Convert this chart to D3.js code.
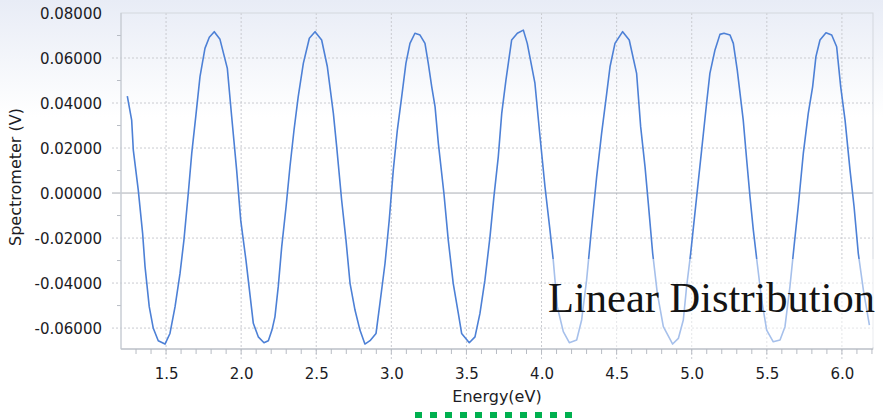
<!DOCTYPE html>
<html>
<head>
<meta charset="utf-8">
<script src="https://cdn.jsdelivr.net/npm/d3@7"></script>
<style>
  body { margin: 0; background: #fff; }
  svg { display: block; }
  .tick text { font-family: "DejaVu Sans", Verdana, sans-serif; font-size: 15px; fill: #1c1c24; }
</style>
</head>
<body>
<svg id="viz" width="883" height="418"></svg>
<script>
// values
var energy = [1.242,1.271,1.282,1.315,1.344,1.360,1.388,1.415,1.448,1.493,1.526,1.560,1.593,1.619,1.648,1.671,1.699,1.726,1.759,1.788,1.821,1.859,1.908,1.937,1.970,1.997,2.032,2.081,2.114,2.152,2.181,2.205,2.225,2.247,2.270,2.299,2.325,2.352,2.380,2.414,2.454,2.492,2.536,2.574,2.614,2.636,2.669,2.698,2.725,2.758,2.791,2.824,2.858,2.898,2.924,2.958,2.986,3.013,3.040,3.069,3.097,3.124,3.157,3.191,3.224,3.246,3.269,3.291,3.313,3.350,3.379,3.412,3.446,3.468,3.519,3.557,3.590,3.623,3.657,3.683,3.712,3.735,3.763,3.801,3.839,3.879,3.905,3.956,3.990,4.023,4.056,4.078,4.105,4.145,4.185,4.234,4.267,4.300,4.334,4.367,4.400,4.434,4.456,4.489,4.540,4.584,4.633,4.660,4.689,4.711,4.740,4.771,4.811,4.873,4.911,4.944,4.966,4.993,5.033,5.066,5.099,5.121,5.155,5.188,5.215,5.255,5.277,5.303,5.343,5.366,5.388,5.410,5.436,5.466,5.499,5.543,5.588,5.621,5.654,5.681,5.709,5.743,5.776,5.805,5.827,5.854,5.894,5.932,5.965,5.992,6.021,6.054,6.081,6.109,6.143,6.183];
var voltage = [0.0431,0.0324,0.0191,0.0013,-0.0179,-0.0327,-0.0505,-0.0601,-0.0656,-0.0671,-0.0624,-0.0505,-0.0357,-0.0209,-0.0001,0.0176,0.0347,0.0517,0.0643,0.0692,0.0717,0.0683,0.0554,0.0339,0.0102,-0.0120,-0.0298,-0.0579,-0.0639,-0.0665,-0.0656,-0.0609,-0.0550,-0.0416,-0.0239,-0.0061,0.0117,0.0280,0.0428,0.0576,0.0688,0.0717,0.0680,0.0561,0.0354,0.0206,-0.0031,-0.0209,-0.0401,-0.0520,-0.0609,-0.0671,-0.0656,-0.0624,-0.0490,-0.0312,-0.0120,0.0102,0.0280,0.0428,0.0576,0.0665,0.0710,0.0702,0.0665,0.0576,0.0472,0.0384,0.0221,-0.0001,-0.0209,-0.0401,-0.0535,-0.0624,-0.0665,-0.0639,-0.0535,-0.0387,-0.0194,-0.0016,0.0161,0.0354,0.0502,0.0680,0.0710,0.0724,0.0665,0.0488,0.0250,0.0028,-0.0164,-0.0298,-0.0505,-0.0616,-0.0665,-0.0653,-0.0564,-0.0387,-0.0150,0.0072,0.0265,0.0443,0.0561,0.0665,0.0717,0.0680,0.0532,0.0295,0.0117,-0.0046,-0.0268,-0.0446,-0.0594,-0.0671,-0.0646,-0.0564,-0.0416,-0.0268,-0.0016,0.0191,0.0399,0.0532,0.0636,0.0705,0.0710,0.0702,0.0665,0.0547,0.0324,0.0147,-0.0016,-0.0164,-0.0312,-0.0476,-0.0609,-0.0661,-0.0653,-0.0594,-0.0416,-0.0239,-0.0061,0.0176,0.0354,0.0472,0.0606,0.0680,0.0712,0.0702,0.0650,0.0472,0.0324,0.0102,-0.0061,-0.0268,-0.0431,-0.0587];
var xTicks = [1.5, 2.0, 2.5, 3.0, 3.5, 4.0, 4.5, 5.0, 5.5, 6.0];
var yTicks = [-0.06, -0.04, -0.02, 0, 0.02, 0.04, 0.06, 0.08];
var xMinor = d3.range(13, 63).map(function(d) { return d / 10; });
var yMinor = [-0.05, -0.03, -0.01, 0.01, 0.03, 0.05, 0.07];

var svg = d3.select("#viz"),
    margin = {top: 13, right: 10, bottom: 69, left: 121},
    width = 883 - margin.left - margin.right,
    height = 418 - margin.top - margin.bottom;

// soft blue wash at the top of the page
var defs = svg.append("defs");
var grad = defs.append("linearGradient").attr("id", "wash").attr("x1", 0).attr("y1", 0).attr("x2", 0).attr("y2", 1);
grad.append("stop").attr("offset", "0%").attr("stop-color", "#e8ecf6");
grad.append("stop").attr("offset", "28%").attr("stop-color", "#ffffff");
svg.append("rect").attr("width", 883).attr("height", 418).attr("fill", "url(#wash)");

var g = svg.append("g").attr("transform", "translate(" + margin.left + "," + margin.top + ")");

var x = d3.scaleLinear().domain([1.2, 6.207]).range([0, width]);
var y = d3.scaleLinear().domain([-0.0693, 0.08]).range([height, 0]);

// gridlines
g.append("g").selectAll("line").data(xTicks).enter().append("line")
    .attr("x1", d => x(d)).attr("x2", d => x(d))
    .attr("y1", 0).attr("y2", height + 11)
    .attr("stroke", "#c9cbd0").attr("stroke-dasharray", "2,2");
g.append("g").selectAll("line").data(yTicks.filter(d => d != 0 && d != 0.08)).enter().append("line")
    .attr("x1", -9).attr("x2", width)
    .attr("y1", d => y(d)).attr("y2", d => y(d))
    .attr("stroke", "#c9cbd0").attr("stroke-dasharray", "2,2");
g.append("line").attr("x1", -9).attr("x2", width)
    .attr("y1", y(0)).attr("y2", y(0)).attr("stroke", "#a9adb4");

// plot frame
g.append("rect").attr("width", width).attr("height", height)
    .attr("fill", "none").attr("stroke", "#d3d7de");

// minor ticks
g.append("g").selectAll("line").data(xMinor).enter().append("line")
    .attr("x1", d => x(d)).attr("x2", d => x(d))
    .attr("y1", height).attr("y2", height + 5)
    .attr("stroke", "#b8bcc4");
g.append("g").selectAll("line").data(yMinor).enter().append("line")
    .attr("x1", -4).attr("x2", 0)
    .attr("y1", d => y(d)).attr("y2", d => y(d))
    .attr("stroke", "#b8bcc4");

// axes (labels only, lines drawn above); plain hyphen for negatives
var fmtY = function(d) { return d3.format(".5f")(d).replace("\u2212", "-"); };
var xAxis = g.append("g").attr("transform", "translate(0," + height + ")")
    .call(d3.axisBottom(x).tickValues(xTicks).tickFormat(d3.format(".1f")).tickSize(0).tickPadding(19));
var yAxis = g.append("g")
    .call(d3.axisLeft(y).tickValues(yTicks).tickFormat(fmtY).tickSize(0).tickPadding(19));
xAxis.select(".domain").remove();
yAxis.select(".domain").remove();
yAxis.selectAll(".tick text").attr("dy", "0.36em");
g.append("line").attr("x1", 0).attr("x2", width).attr("y1", height).attr("y2", height).attr("stroke", "#aeb3bb");
g.append("line").attr("x1", 0).attr("x2", 0).attr("y1", 0).attr("y2", height).attr("stroke", "#c3c8d0");

// the curve
var line = d3.line().x(d => x(d[0])).y(d => y(d[1]));
g.append("path")
    .datum(energy.map(function(e, i) { return [e, voltage[i]]; }))
    .attr("fill", "none")
    .attr("stroke", "#4d80d6")
    .attr("stroke-width", 1.6)
    .attr("stroke-linejoin", "round")
    .attr("d", line);

// axis titles
svg.append("text")
    .attr("x", margin.left + width / 2).attr("y", 402)
    .attr("text-anchor", "middle")
    .style("font-family", "'DejaVu Sans', Verdana, sans-serif").style("font-size", "16px").style("fill", "#1c1c24")
    .text("Energy(eV)");
svg.append("text")
    .attr("transform", "translate(21,177) rotate(-90)")
    .attr("text-anchor", "middle")
    .style("font-family", "'DejaVu Sans', Verdana, sans-serif").style("font-size", "16px").style("fill", "#1c1c24")
    .text("Spectrometer (V)");

// overlay caption with a faded backing
svg.append("rect").attr("x", 549).attr("y", 259).attr("width", 334).attr("height", 88)
    .attr("fill", "#ffffff").attr("opacity", 0.5);
svg.append("text")
    .attr("x", 548).attr("y", 312)
    .attr("textLength", 327).attr("lengthAdjust", "spacingAndGlyphs")
    .style("font-family", "'Liberation Serif', 'Times New Roman', serif").style("font-size", "42px").style("fill", "#141414")
    .text("Linear Distribution");

// green dotted marker under the axis title
svg.append("line").attr("x1", 415).attr("x2", 575).attr("y1", 415).attr("y2", 415)
    .attr("stroke", "#00b04f").attr("stroke-width", 6).attr("stroke-dasharray", "7,8");
</script>
</body>
</html>
